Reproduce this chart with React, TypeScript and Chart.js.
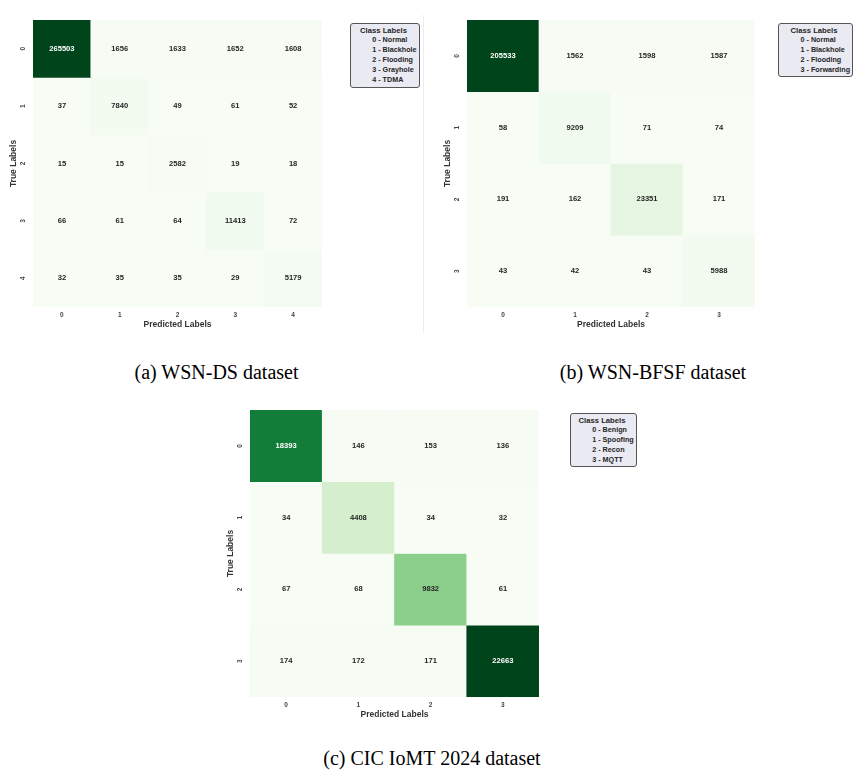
import React, { useEffect, useRef } from "react";
import { Chart, registerables } from "chart.js";
Chart.register(...registerables);

// ---------------- Data ----------------
const wsnDsTicks = ["0", "1", "2", "3", "4"];
const wsnDsClassNames = ["0 - Normal", "1 - Blackhole", "2 - Flooding", "3 - Grayhole", "4 - TDMA"];
const wsnDsMatrix = [
  [265503, 1656, 1633, 1652, 1608],
  [37, 7840, 49, 61, 52],
  [15, 15, 2582, 19, 18],
  [66, 61, 64, 11413, 72],
  [32, 35, 35, 29, 5179],
];

const wsnBfsfTicks = ["0", "1", "2", "3"];
const wsnBfsfClassNames = ["0 - Normal", "1 - Blackhole", "2 - Flooding", "3 - Forwarding"];
const wsnBfsfMatrix = [
  [205533, 1562, 1598, 1587],
  [58, 9209, 71, 74],
  [191, 162, 23351, 171],
  [43, 42, 43, 5988],
];

const cicTicks = ["0", "1", "2", "3"];
const cicClassNames = ["0 - Benign", "1 - Spoofing", "2 - Recon", "3 - MQTT"];
const cicMatrix = [
  [18393, 146, 153, 136],
  [34, 4408, 34, 32],
  [67, 68, 9832, 61],
  [174, 172, 171, 22663],
];

const xTitle = "Predicted Labels";
const yTitle = "True Labels";
const legendTitle = "Class Labels";

// ---------------- Colour map (matplotlib Greens) ----------------
const GREENS = ["#f7fcf5", "#e5f5e0", "#c7e9c0", "#a1d99b", "#74c476", "#41ab5d", "#238b45", "#006d2c", "#00441b"];
function hexToRgb(h: string) {
  return [parseInt(h.slice(1, 3), 16), parseInt(h.slice(3, 5), 16), parseInt(h.slice(5, 7), 16)];
}
function greens(t: number): number[] {
  const tt = Math.max(0, Math.min(1, t));
  const pos = tt * (GREENS.length - 1);
  const i = Math.min(Math.floor(pos), GREENS.length - 2);
  const f = pos - i;
  const a = hexToRgb(GREENS[i]);
  const b = hexToRgb(GREENS[i + 1]);
  return [0, 1, 2].map((k) => a[k] + (b[k] - a[k]) * f);
}
function rgbStr(c: number[]) {
  return `rgb(${Math.round(c[0])},${Math.round(c[1])},${Math.round(c[2])})`;
}
function luminance(c: number[]) {
  const lin = c.map((v) => {
    const s = v / 255;
    return s <= 0.03928 ? s / 12.92 : Math.pow((s + 0.055) / 1.055, 2.4);
  });
  return 0.2126 * lin[0] + 0.7152 * lin[1] + 0.0722 * lin[2];
}

const SANS = "'Liberation Sans', Arial, Helvetica, sans-serif";
const SERIF = "'Liberation Serif', 'Times New Roman', serif";

type Box = { l: number; t: number; r: number; b: number };

const PAD_L = 40;
const PAD_T = 4;
const PAD_R = 4;
const PAD_B = 30;

function Heatmap({ ticks, matrix, grid }: { ticks: string[]; matrix: number[][]; grid: Box }) {
  const ref = useRef<HTMLCanvasElement>(null);
  const W = grid.r - grid.l + PAD_L + PAD_R;
  const H = grid.b - grid.t + PAD_T + PAD_B;

  useEffect(() => {
    if (!ref.current) return;
    const n = ticks.length;
    const flat = matrix.flat();
    const minV = Math.min(...flat);
    const maxV = Math.max(...flat);
    const colors = matrix.map((row) => row.map((v) => greens((v - minV) / (maxV - minV))));

    const datasets = matrix.map((row, r) => ({
      label: `True ${ticks[r]}`,
      data: row.map(() => [r - 0.5, r + 0.5]),
      backgroundColor: colors[r].map(rgbStr),
      borderWidth: 0,
      barPercentage: 1,
      categoryPercentage: 1,
      grouped: false,
    }));

    const cellText = {
      id: "cellText",
      afterDatasetsDraw(chart: any) {
        const ctx = chart.ctx;
        ctx.save();
        ctx.font = `bold 7.6px ${SANS}`;
        ctx.textAlign = "center";
        ctx.textBaseline = "middle";
        matrix.forEach((row, r) => {
          const meta = chart.getDatasetMeta(r);
          meta.data.forEach((el: any, c: number) => {
            const p = el.getProps(["x", "y", "base"], true);
            const cy = (p.y + p.base) / 2;
            ctx.fillStyle = luminance(colors[r][c]) > 0.408 ? "#262626" : "#ffffff";
            ctx.fillText(String(row[c]), p.x, cy);
          });
        });
        ctx.restore();
      },
    };

    const yTicks = {
      id: "yTicks",
      afterDraw(chart: any) {
        const ctx = chart.ctx;
        const ys = chart.scales.y;
        ctx.save();
        ctx.font = `bold 6.5px ${SANS}`;
        ctx.fillStyle = "#444";
        ctx.textAlign = "center";
        ctx.textBaseline = "middle";
        ticks.forEach((t, i) => {
          const py = ys.getPixelForValue(i);
          ctx.save();
          ctx.translate(chart.chartArea.left - 9.5, py);
          ctx.rotate(-Math.PI / 2);
          ctx.fillText(t, 0, 0);
          ctx.restore();
        });
        ctx.restore();
      },
    };

    const chart = new Chart(ref.current, {
      type: "bar",
      data: { labels: ticks, datasets: datasets as any },
      options: {
        responsive: false,
        animation: false,
        devicePixelRatio: 1,
        layout: { padding: { left: 0, top: PAD_T, right: PAD_R, bottom: 0 } },
        plugins: { legend: { display: false }, tooltip: { enabled: false } },
        scales: {
          x: {
            type: "category",
            offset: true,
            grid: { display: false, drawTicks: false },
            border: { display: false },
            ticks: {
              font: { family: SANS, size: 6.5, weight: "bold" },
              color: "#444",
              padding: 4,
              maxRotation: 0,
              autoSkip: false,
            },
            title: {
              display: true,
              text: xTitle,
              font: { family: SANS, size: 8.5, weight: "bold" },
              color: "#333",
              padding: { top: 0, bottom: 6.9 },
            },
            afterFit: (s: any) => {
              s.height = PAD_B;
            },
          },
          y: {
            type: "linear",
            reverse: true,
            min: -0.5,
            max: n - 0.5,
            grid: { display: false, drawTicks: false },
            border: { display: false },
            ticks: { display: false },
            title: {
              display: true,
              text: yTitle,
              font: { family: SANS, size: 8.5, weight: "bold" },
              color: "#333",
              padding: { top: 15.9, bottom: 0 },
            },
            afterFit: (s: any) => {
              s.width = PAD_L;
            },
          },
        },
      } as any,
      plugins: [cellText, yTicks],
    });
    return () => chart.destroy();
  }, []);

  return (
    <canvas
      ref={ref}
      width={W}
      height={H}
      style={{ position: "absolute", left: grid.l - PAD_L, top: grid.t - PAD_T, width: W, height: H }}
    />
  );
}

function LegendBox({ box, titleY, itemX, itemYs, names }: { box: Box; titleY: number; itemX: number; itemYs: number[]; names: string[] }) {
  return (
    <div
      style={{
        position: "absolute",
        left: box.l,
        top: box.t,
        width: box.r - box.l,
        height: box.b - box.t,
        boxSizing: "border-box",
        border: "1.5px solid #555",
        borderRadius: 3,
        background: "#eaeaf2",
      }}
    >
      <div
        style={{
          position: "absolute",
          left: 0,
          width: "100%",
          top: titleY - box.t - 6,
          height: 12,
          lineHeight: "12px",
          textAlign: "center",
          fontFamily: SANS,
          fontWeight: 700,
          fontSize: 7.7,
          color: "#262626",
          whiteSpace: "nowrap",
          marginLeft: -1.5,
        }}
      >
        {legendTitle}
      </div>
      {names.map((nm, i) => (
        <div
          key={nm}
          style={{
            position: "absolute",
            left: itemX - box.l - 1.5,
            top: itemYs[i] - box.t - 6 - 1.5,
            height: 12,
            lineHeight: "12px",
            fontFamily: SANS,
            fontWeight: 700,
            fontSize: 7.2,
            color: "#262626",
            whiteSpace: "nowrap",
          }}
        >
          {nm}
        </div>
      ))}
    </div>
  );
}

function Caption({ cx, baseline, text }: { cx: number; baseline: number; text: string }) {
  return (
    <div
      style={{
        position: "absolute",
        left: cx - 200,
        width: 400,
        top: baseline - 18.25,
        height: 23,
        lineHeight: "23px",
        textAlign: "center",
        fontFamily: SERIF,
        fontSize: 20,
        color: "#000",
        whiteSpace: "nowrap",
      }}
    >
      {text}
    </div>
  );
}

export default function App() {
  return (
    <div style={{ position: "absolute", left: 0, top: 0, width: 860, height: 777, background: "#fff", overflow: "hidden" }}>
      <div style={{ position: "absolute", left: 423, top: 15, width: 1, height: 318, background: "#ececec" }} />
      <Heatmap ticks={wsnDsTicks} matrix={wsnDsMatrix} grid={{ l: 33, t: 20, r: 322, b: 307 }} />
      <Heatmap ticks={wsnBfsfTicks} matrix={wsnBfsfMatrix} grid={{ l: 467, t: 20, r: 755, b: 307 }} />
      <Heatmap ticks={cicTicks} matrix={cicMatrix} grid={{ l: 250, t: 410, r: 539, b: 697 }} />

      <LegendBox box={{ l: 350, t: 23, r: 420, b: 88 }} titleY={29.5} itemX={372.7} itemYs={[40, 50, 60, 70, 80]} names={wsnDsClassNames} />
      <LegendBox box={{ l: 778, t: 23, r: 853, b: 77 }} titleY={29.5} itemX={801} itemYs={[40, 50, 60, 70]} names={wsnBfsfClassNames} />
      <LegendBox box={{ l: 570, t: 413, r: 637, b: 467 }} titleY={419.5} itemX={592.7} itemYs={[430, 440, 450, 460]} names={cicClassNames} />

      <Caption cx={216.5} baseline={379} text="(a) WSN-DS dataset" />
      <Caption cx={653} baseline={379} text="(b) WSN-BFSF dataset" />
      <Caption cx={432} baseline={765} text="(c) CIC IoMT 2024 dataset" />
    </div>
  );
}
